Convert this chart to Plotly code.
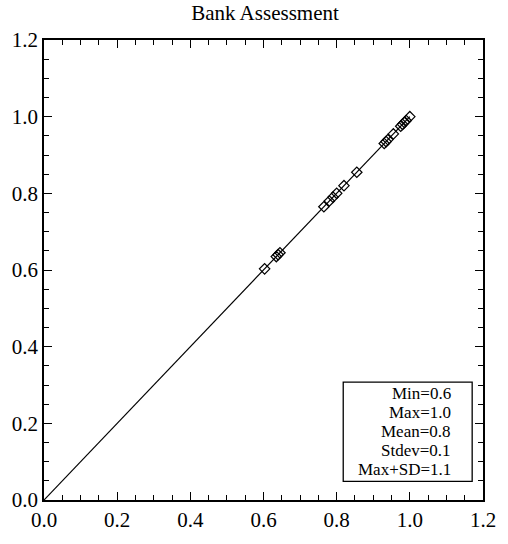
import plotly.graph_objects as go

# assessment values (observed vs. predicted lie on 1:1)
values = [0.603, 0.635, 0.640, 0.645,
          0.765, 0.780, 0.790, 0.800, 0.820, 0.855,
          0.930, 0.935, 0.940, 0.955, 0.975, 0.980, 0.985, 0.990, 1.000]
stats_labels = ["Min", "Max", "Mean", "Stdev", "Max+SD"]
stats_values = ["0.6", "1.0", "0.8", "0.1", "1.1"]
tick_vals = [0.0, 0.2, 0.4, 0.6, 0.8, 1.0, 1.2]
tick_text = ["0.0", "0.2", "0.4", "0.6", "0.8", "1.0", "1.2"]

font = "Liberation Serif, Times New Roman, serif"
W, H = 508, 544
L, R, T, B = 42, 20, 40, 36

fig = go.Figure()
# 1:1 line from origin to largest value
fig.add_trace(go.Scatter(x=[0, max(values)], y=[0, max(values)], mode="lines",
                         line=dict(color="black", width=1.2), hoverinfo="skip"))
fig.add_trace(go.Scatter(x=values, y=values, mode="markers",
                         marker=dict(symbol="diamond-open", size=8, color="black",
                                     line=dict(width=1.2, color="black"))))

axis = dict(range=[0, 1.2], tickvals=tick_vals, ticktext=tick_text,
            ticks="inside", ticklen=8, tickwidth=1.3, tickcolor="black",
            showline=True, linecolor="black", linewidth=1.6, mirror="allticks",
            showgrid=False, zeroline=False,
            minor=dict(ticks="inside", ticklen=5, tickwidth=1.3, tickcolor="black",
                       dtick=0.05, showgrid=False),
            tickfont=dict(family=font, size=21, color="black"))

fig.update_layout(
    width=W, height=H,
    margin=dict(l=L, r=R, t=T, b=B),
    paper_bgcolor="white", plot_bgcolor="white",
    showlegend=False,
    title=dict(text="Bank Assessment", x=(L + (W - L - R) / 2) / W, xanchor="center",
               y=1 - 13 / H, yanchor="middle",
               font=dict(family=font, size=21, color="black")),
    xaxis=axis, yaxis=axis,
)

pw, ph = W - L - R, H - T - B
def px(x):  # pixel -> paper x
    return (x - L) / pw
def py(y):  # pixel -> paper y
    return (H - B - y) / ph

# stats box
fig.add_shape(type="rect", xref="paper", yref="paper",
              x0=px(346), x1=px(477), y0=py(489), y1=py(388),
              line=dict(color="black", width=1.3), fillcolor="white")
for i, (a, b) in enumerate(zip(stats_labels, stats_values)):
    fig.add_annotation(xref="paper", yref="paper", x=px(458), y=py(400 + i * 19.3),
                       xanchor="right", yanchor="middle", showarrow=False,
                       text=f"{a}={b}", font=dict(family=font, size=17, color="black"))

# drop the browser's default body margin so the figure sits at the window corner
fig.write_html("out.html", config={"displayModeBar": False},
               post_script="document.body.style.margin='0';")
